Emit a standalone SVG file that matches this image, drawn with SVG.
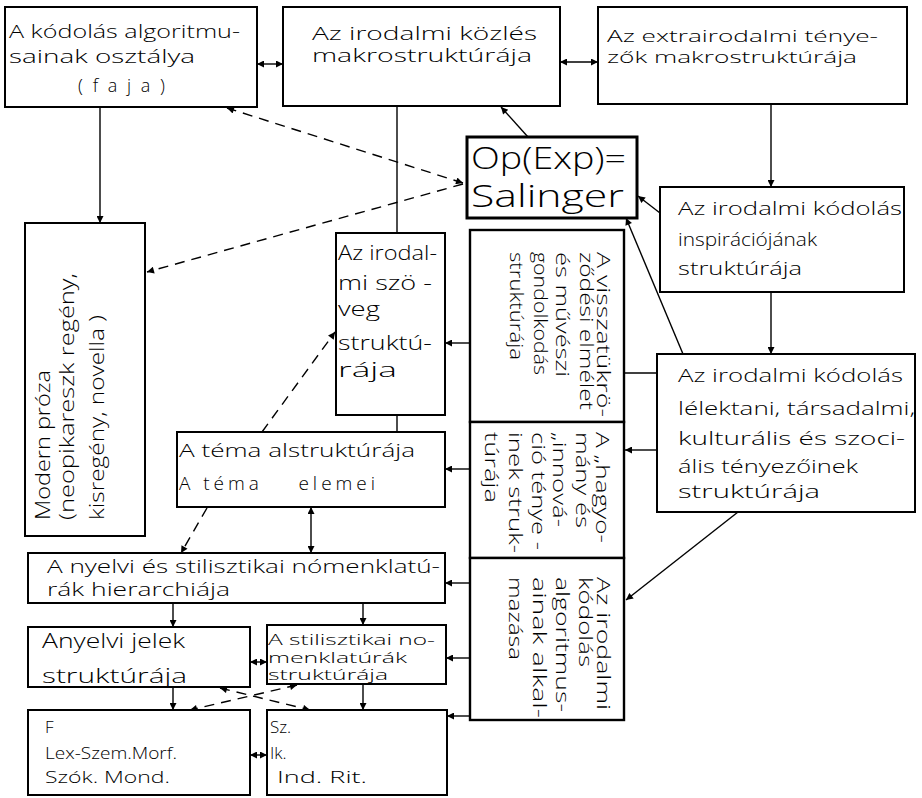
<svg xmlns="http://www.w3.org/2000/svg" width="922" height="798" viewBox="0 0 922 798">
<style>
.box{fill:#fff;stroke:#000;stroke-width:2}
.c{stroke:#000;stroke-width:1.4;fill:none}
.d{stroke-dasharray:10 7}
text{font-family:"Open Sans","DejaVu Sans",sans-serif;font-weight:300;fill:#000;font-size:18px}
.t20{font-size:20px}
.t17{font-size:17px}
.t14{font-size:14px}
.big{font-size:32px}
</style>
<defs>
<marker id="a" viewBox="0 0 10 10" refX="10" refY="5" markerUnits="userSpaceOnUse" markerWidth="9" markerHeight="7" orient="auto-start-reverse">
<path d="M0,0 L10,5 L0,10 z" fill="#000"/>
</marker>
</defs>
<rect width="922" height="798" fill="#fff"/>

<g id="connectors">
<line class="c" x1="257" y1="64" x2="283" y2="64" marker-start="url(#a)" marker-end="url(#a)"/>
<line class="c" x1="560" y1="62" x2="598" y2="62" marker-start="url(#a)" marker-end="url(#a)"/>
<line class="c" x1="100" y1="107" x2="100" y2="223" marker-end="url(#a)"/>
<line class="c" x1="528" y1="137" x2="501" y2="107" marker-end="url(#a)"/>
<line class="c" x1="397" y1="106" x2="397" y2="233"/>
<line class="c d" x1="463" y1="183" x2="227" y2="108" marker-start="url(#a)" marker-end="url(#a)"/>
<line class="c d" x1="463" y1="184" x2="147" y2="272" marker-end="url(#a)"/>
<line class="c" x1="771" y1="104" x2="771" y2="187" marker-end="url(#a)"/>
<line class="c" x1="660" y1="213" x2="638" y2="196" marker-end="url(#a)"/>
<line class="c" x1="683" y1="354" x2="626" y2="218" marker-end="url(#a)"/>
<line class="c" x1="771" y1="292" x2="771" y2="354" marker-end="url(#a)"/>
<line class="c" x1="657" y1="373" x2="624" y2="373"/>
<line class="c" x1="657" y1="450" x2="625" y2="450" marker-end="url(#a)"/>
<line class="c" x1="738" y1="512" x2="626" y2="600" marker-end="url(#a)"/>
<line class="c" x1="470" y1="343" x2="445" y2="343" marker-end="url(#a)"/>
<line class="c" x1="470" y1="469" x2="445" y2="469" marker-end="url(#a)"/>
<line class="c" x1="397" y1="415" x2="397" y2="432"/>
<line class="c d" x1="262" y1="432" x2="335" y2="332" marker-end="url(#a)"/>
<line class="c d" x1="207" y1="508" x2="181" y2="553" marker-end="url(#a)"/>
<line class="c" x1="311" y1="507" x2="311" y2="553" marker-start="url(#a)" marker-end="url(#a)"/>
<line class="c" x1="470" y1="583" x2="445" y2="583" marker-end="url(#a)"/>
<line class="c" x1="173" y1="603" x2="173" y2="627" marker-end="url(#a)"/>
<line class="c" x1="363" y1="603" x2="363" y2="625" marker-end="url(#a)"/>
<line class="c" x1="250" y1="662" x2="267" y2="662" marker-start="url(#a)" marker-end="url(#a)"/>
<line class="c" x1="470" y1="658" x2="446" y2="658" marker-end="url(#a)"/>
<line class="c" x1="173" y1="687" x2="173" y2="710" marker-end="url(#a)"/>
<line class="c" x1="363" y1="684" x2="363" y2="710" marker-end="url(#a)"/>
<line class="c" x1="250" y1="755" x2="267" y2="755" marker-start="url(#a)" marker-end="url(#a)"/>
<line class="c" x1="470" y1="716" x2="447" y2="716" marker-end="url(#a)"/>
<line class="c d" x1="220" y1="688" x2="310" y2="710" marker-start="url(#a)" marker-end="url(#a)"/>
<line class="c d" x1="297" y1="685" x2="190" y2="710" marker-start="url(#a)" marker-end="url(#a)"/>
</g>

<g id="n-algoritmus">
<rect class="box" x="5" y="7" width="252" height="100"/>
<text x="9" y="38" textLength="231" lengthAdjust="spacingAndGlyphs">A kódolás algoritmu-</text>
<text x="9" y="63" textLength="186" lengthAdjust="spacingAndGlyphs">sainak osztálya</text>
<text x="78" y="92" textLength="87" lengthAdjust="spacing">(faja)</text>
</g>

<g id="n-kozles">
<rect class="box" x="283" y="7" width="277" height="99"/>
<text x="312" y="40" textLength="225" lengthAdjust="spacingAndGlyphs">Az irodalmi közlés</text>
<text x="312" y="62" textLength="220" lengthAdjust="spacingAndGlyphs">makrostruktúrája</text>
</g>

<g id="n-extra">
<rect class="box" x="598" y="7" width="309" height="97"/>
<text class="t17" x="607" y="42" textLength="271" lengthAdjust="spacingAndGlyphs">Az extrairodalmi ténye-</text>
<text class="t17" x="607" y="63" textLength="250" lengthAdjust="spacingAndGlyphs">zők makrostruktúrája</text>
</g>

<g id="n-salinger">
<rect class="box" x="467" y="137" width="170" height="81" style="stroke-width:3"/>
<text class="big" x="471" y="169" textLength="155" lengthAdjust="spacingAndGlyphs">Op(Exp)=</text>
<text class="big" x="471" y="207" textLength="153" lengthAdjust="spacingAndGlyphs">Salinger</text>
</g>

<g id="n-modern">
<rect class="box" x="25" y="223" width="120" height="313"/>
<text class="t20" transform="translate(50,520) rotate(-90)" textLength="150" lengthAdjust="spacingAndGlyphs">Modern próza</text>
<text class="t20" transform="translate(74,520) rotate(-90)" textLength="247" lengthAdjust="spacingAndGlyphs">(neopikareszk regény,</text>
<text class="t20" transform="translate(104,520) rotate(-90)" textLength="205" lengthAdjust="spacingAndGlyphs">kisregény, novella )</text>
</g>

<g id="n-inspiracio">
<rect class="box" x="660" y="187" width="244" height="105"/>
<text x="678" y="215" textLength="224" lengthAdjust="spacingAndGlyphs">Az irodalmi kódolás</text>
<text x="678" y="246" textLength="139" lengthAdjust="spacingAndGlyphs">inspirációjának</text>
<text x="678" y="275" textLength="124" lengthAdjust="spacingAndGlyphs">struktúrája</text>
</g>

<g id="n-lelektani">
<rect class="box" x="657" y="354" width="258" height="158"/>
<text x="678" y="382" textLength="225" lengthAdjust="spacingAndGlyphs">Az irodalmi kódolás</text>
<text x="678" y="415" textLength="237" lengthAdjust="spacingAndGlyphs">lélektani, társadalmi,</text>
<text x="678" y="445" textLength="227" lengthAdjust="spacingAndGlyphs">kulturális és szoci-</text>
<text x="678" y="473" textLength="180" lengthAdjust="spacingAndGlyphs">ális tényezőinek</text>
<text x="678" y="498" textLength="142" lengthAdjust="spacingAndGlyphs">struktúrája</text>
</g>

<g id="n-szoveg">
<rect class="box" x="336" y="233" width="109" height="182"/>
<text class="t20" x="338" y="260" textLength="99" lengthAdjust="spacingAndGlyphs">Az irodal-</text>
<text class="t20" x="338" y="290" textLength="94" lengthAdjust="spacingAndGlyphs">mi szö -</text>
<text class="t20" x="338" y="316" textLength="42" lengthAdjust="spacingAndGlyphs">veg</text>
<text class="t20" x="338" y="350" textLength="94" lengthAdjust="spacingAndGlyphs">struktú-</text>
<text class="t20" x="338" y="377" textLength="59" lengthAdjust="spacingAndGlyphs">rája</text>
</g>

<g id="n-visszatukrozodes">
<rect class="box" x="470" y="230" width="154" height="192" style="stroke-width:2.4"/>
<text transform="translate(597,252) rotate(90)" textLength="165" lengthAdjust="spacingAndGlyphs">A visszatükrö-</text>
<text transform="translate(580,252) rotate(90)" textLength="158" lengthAdjust="spacingAndGlyphs">ződési elmélet</text>
<text transform="translate(556,252) rotate(90)" textLength="125" lengthAdjust="spacingAndGlyphs">és művészi</text>
<text transform="translate(534,252) rotate(90)" textLength="123" lengthAdjust="spacingAndGlyphs">gondolkodás</text>
<text transform="translate(510,252) rotate(90)" textLength="108" lengthAdjust="spacingAndGlyphs">struktúrája</text>
</g>

<g id="n-hagyomany">
<rect class="box" x="470" y="422" width="154" height="136" style="stroke-width:2.4"/>
<text transform="translate(596,432) rotate(90)" textLength="111" lengthAdjust="spacingAndGlyphs">A „hagyo-</text>
<text transform="translate(576,432) rotate(90)" textLength="96" lengthAdjust="spacingAndGlyphs">mány és</text>
<text transform="translate(553,432) rotate(90)" textLength="95" lengthAdjust="spacingAndGlyphs">„innová-</text>
<text transform="translate(532,432) rotate(90)" textLength="118" lengthAdjust="spacingAndGlyphs">ció ténye -</text>
<text transform="translate(509,432) rotate(90)" textLength="121" lengthAdjust="spacingAndGlyphs">inek struk-</text>
<text transform="translate(485,432) rotate(90)" textLength="71" lengthAdjust="spacingAndGlyphs">túrája</text>
</g>

<g id="n-alkalmazas">
<rect class="box" x="470" y="558" width="154" height="162" style="stroke-width:2.4"/>
<text transform="translate(597,577) rotate(90)" textLength="133" lengthAdjust="spacingAndGlyphs">Az irodalmi</text>
<text transform="translate(579,577) rotate(90)" textLength="90" lengthAdjust="spacingAndGlyphs">kódolás</text>
<text transform="translate(556,577) rotate(90)" textLength="135" lengthAdjust="spacingAndGlyphs">algoritmus-</text>
<text transform="translate(533,577) rotate(90)" textLength="141" lengthAdjust="spacingAndGlyphs">ainak alkal-</text>
<text transform="translate(509,577) rotate(90)" textLength="83" lengthAdjust="spacingAndGlyphs">mazása</text>
</g>

<g id="n-tema">
<rect class="box" x="177" y="432" width="268" height="75"/>
<text x="179" y="457" textLength="236" lengthAdjust="spacingAndGlyphs" style="font-size:19px">A téma alstruktúrája</text>
<text x="179" y="490" textLength="196" lengthAdjust="spacing" style="font-size:19px" xml:space="preserve">A téma    elemei</text>
</g>

<g id="n-hierarchia">
<rect class="box" x="28" y="553" width="417" height="50"/>
<text x="47" y="573" textLength="393" lengthAdjust="spacingAndGlyphs">A nyelvi és stilisztikai nómenklatú-</text>
<text x="47" y="596" textLength="183" lengthAdjust="spacingAndGlyphs">rák hierarchiája</text>
</g>

<g id="n-nyelvi-jelek">
<rect class="box" x="28" y="627" width="222" height="60"/>
<text class="t20" x="42" y="648" textLength="143" lengthAdjust="spacingAndGlyphs">Anyelvi jelek</text>
<text class="t20" x="42" y="683" textLength="145" lengthAdjust="spacingAndGlyphs">struktúrája</text>
</g>

<g id="n-stilisztikai">
<rect class="box" x="267" y="625" width="179" height="59"/>
<text class="t14" x="268" y="645" textLength="167" lengthAdjust="spacingAndGlyphs">A stilisztikai no-</text>
<text class="t14" x="268" y="663" textLength="139" lengthAdjust="spacingAndGlyphs">menklatúrák</text>
<text class="t14" x="268" y="680" textLength="120" lengthAdjust="spacingAndGlyphs">struktúrája</text>
</g>

<g id="n-f">
<rect class="box" x="28" y="710" width="222" height="85"/>
<text class="t17" x="45" y="733">F</text>
<text class="t17" x="45" y="759" textLength="132" lengthAdjust="spacingAndGlyphs">Lex-Szem.Morf.</text>
<text class="t17" x="45" y="783" textLength="125" lengthAdjust="spacingAndGlyphs">Szók. Mond.</text>
</g>

<g id="n-sz">
<rect class="box" x="267" y="710" width="180" height="85"/>
<text class="t17" x="270" y="733">Sz.</text>
<text class="t17" x="270" y="759">Ik.</text>
<text class="t17" x="277" y="783" textLength="90" lengthAdjust="spacingAndGlyphs">Ind. Rit.</text>
</g>
</svg>
